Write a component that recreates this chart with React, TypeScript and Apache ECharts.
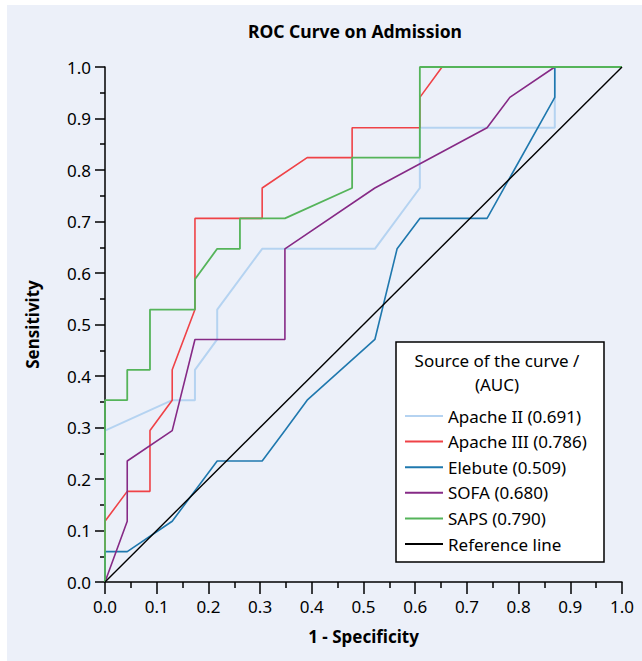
import React, { useEffect, useRef } from "react";
import * as echarts from "echarts";

const seriesNames = ["Apache II (0.691)", "Apache III (0.786)", "Elebute (0.509)", "SOFA (0.680)", "SAPS (0.790)", "Reference line"];
const seriesColors = ["#B5D3F1", "#EF4247", "#1F78AE", "#862A86", "#55B45A", "#000000"];

const apache2X = [0, 0, 0.13, 0.174, 0.174, 0.217, 0.217, 0.304, 0.522, 0.609, 0.609, 0.87, 0.87, 1];
const apache2Y = [0, 0.294, 0.353, 0.353, 0.412, 0.471, 0.529, 0.647, 0.647, 0.765, 0.882, 0.882, 1, 1];

const apache3X = [0, 0, 0.043, 0.087, 0.087, 0.13, 0.13, 0.174, 0.174, 0.304, 0.304, 0.391, 0.478, 0.478, 0.609, 0.609, 0.652, 1];
const apache3Y = [0, 0.118, 0.176, 0.176, 0.294, 0.353, 0.412, 0.529, 0.706, 0.706, 0.765, 0.824, 0.824, 0.882, 0.882, 0.941, 1, 1];

const elebuteX = [0, 0, 0.043, 0.13, 0.217, 0.304, 0.348, 0.391, 0.522, 0.565, 0.609, 0.739, 0.87, 0.87, 1];
const elebuteY = [0, 0.059, 0.059, 0.118, 0.235, 0.235, 0.294, 0.353, 0.471, 0.647, 0.706, 0.706, 0.941, 1, 1];

const sofaX = [0, 0.043, 0.043, 0.13, 0.174, 0.348, 0.348, 0.522, 0.739, 0.783, 0.87, 1];
const sofaY = [0, 0.118, 0.235, 0.294, 0.471, 0.471, 0.647, 0.765, 0.882, 0.941, 1, 1];

const sapsX = [0, 0, 0.043, 0.043, 0.087, 0.087, 0.174, 0.174, 0.217, 0.261, 0.261, 0.348, 0.478, 0.478, 0.609, 0.609, 1];
const sapsY = [0, 0.353, 0.353, 0.412, 0.412, 0.529, 0.529, 0.588, 0.647, 0.647, 0.706, 0.706, 0.765, 0.824, 0.824, 1, 1];

const refX = [0, 1];
const refY = [0, 1];

const xs = [apache2X, apache3X, elebuteX, sofaX, sapsX, refX];
const ys = [apache2Y, apache3Y, elebuteY, sofaY, sapsY, refY];
const lineWidths = [2, 1.6, 1.6, 1.6, 1.8, 1.4];

const FONT = "Noto Sans";

export default function App() {
  const ref = useRef<HTMLDivElement>(null);
  useEffect(() => {
    if (!ref.current) return;
    const chart = echarts.init(ref.current, null, { renderer: "svg" });
    const series = seriesNames.map((name, i) => ({
      name,
      type: "line",
      data: xs[i].map((x, j) => [x, ys[i][j]]),
      showSymbol: false,
      symbol: "none",
      color: seriesColors[i],
      lineStyle: { color: seriesColors[i], width: lineWidths[i] },
      z: 2 + i,
    }));
    chart.setOption({
      animation: false,
      backgroundColor: "#ffffff",
      textStyle: { fontFamily: FONT },
      grid: { left: 105, top: 67, width: 517, height: 515 },
      xAxis: {
        type: "value",
        min: 0,
        max: 1,
        interval: 0.1,
        name: "1 - Specificity",
        nameLocation: "middle",
        nameGap: 46,
        nameTextStyle: { fontFamily: FONT, fontSize: 17, fontWeight: "bold", color: "#000" },
        axisLine: { lineStyle: { color: "#000", width: 1.5 } },
        axisTick: { show: true, length: 12, lineStyle: { color: "#000", width: 1.5 } },
        minorTick: { show: true, splitNumber: 2, length: 6, lineStyle: { color: "#000", width: 1.5 } },
        splitLine: { show: false },
        axisLabel: { fontFamily: FONT, fontSize: 17, color: "#000", margin: 16, formatter: (v: number) => v.toFixed(1) },
      },
      yAxis: {
        type: "value",
        min: 0,
        max: 1,
        interval: 0.1,
        name: "Sensitivity",
        nameLocation: "middle",
        nameGap: 64,
        nameTextStyle: { fontFamily: FONT, fontSize: 17, fontWeight: "bold", color: "#000" },
        axisLine: { show: true, lineStyle: { color: "#000", width: 1.5 } },
        axisTick: { show: true, length: 10, lineStyle: { color: "#000", width: 1.5 } },
        minorTick: { show: true, splitNumber: 2, length: 5, lineStyle: { color: "#000", width: 1.5 } },
        splitLine: { show: false },
        axisLabel: { fontFamily: FONT, fontSize: 17, color: "#000", margin: 14, formatter: (v: number) => v.toFixed(1) },
      },
      legend: {
        orient: "vertical",
        left: 405,
        top: 406,
        padding: 0,
        icon: "rect",
        itemWidth: 38,
        itemHeight: 2,
        itemGap: 5.6,
        data: seriesNames,
        textStyle: { fontFamily: FONT, fontSize: 17, color: "#000", lineHeight: 20 },
        z: 6,
      },
      graphic: [
        { type: "rect", z: -10, shape: { x: 7, y: 5, width: 635, height: 656 }, style: { fill: "#ECF0F9" } },
        { type: "text", z: 5, x: 355, y: 31, style: { text: "ROC Curve on Admission", fontFamily: FONT, fontSize: 17.5, fontWeight: "bold", fill: "#000", align: "center", verticalAlign: "middle" } },
        { type: "rect", z: 5, shape: { x: 396, y: 342, width: 208, height: 220 }, style: { fill: "#ffffff", stroke: "#000", lineWidth: 1.5 } },
        { type: "text", z: 6, x: 497, y: 360, style: { text: "Source of the curve /", fontFamily: FONT, fontSize: 17, fill: "#000", align: "center", verticalAlign: "middle" } },
        { type: "text", z: 6, x: 497, y: 384, style: { text: "(AUC)", fontFamily: FONT, fontSize: 17, fill: "#000", align: "center", verticalAlign: "middle" } },
      ],
      series,
    });
    return () => chart.dispose();
  }, []);
  return <div ref={ref} style={{ position: "fixed", left: 0, top: 0, width: 642, height: 661 }} />;
}
